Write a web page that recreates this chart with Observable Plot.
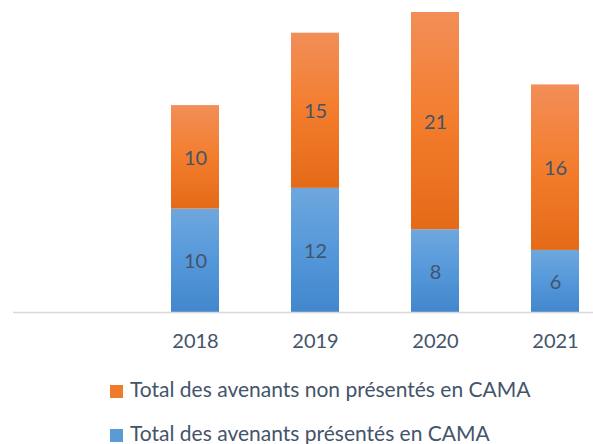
<!DOCTYPE html>
<html>
<head>
<meta charset="utf-8">
<script src="https://cdn.jsdelivr.net/npm/d3@7"></script>
<script src="https://cdn.jsdelivr.net/npm/@observablehq/plot@0.6"></script>
<style>
  html, body { margin: 0; padding: 0; background: #fff; }
  #chart { position: relative; width: 593px; height: 444px; overflow: hidden; font-family: Lato, "Open Sans", sans-serif; }
  .legend { position: absolute; left: 110px; color: #44546A; font-size: 21px; font-family: Lato, sans-serif; white-space: nowrap; }
  .legend .sw { display: inline-block; width: 13px; height: 13px; margin-right: 7px; vertical-align: -1px; }
</style>
</head>
<body>
<div id="chart"></div>
<script>
const years = ["", "2018", "2019", "2020", "2021"];
const presented = [null, 10, 12, 8, 6];
const nonPresented = [null, 10, 15, 21, 16];
const seriesNames = ["Total des avenants présentés en CAMA", "Total des avenants non présentés en CAMA"];

const data = [];
years.forEach((yr, i) => {
  if (presented[i] != null) data.push({year: yr, series: seriesNames[0], value: presented[i]});
  if (nonPresented[i] != null) data.push({year: yr, series: seriesNames[1], value: nonPresented[i]});
});

const textColor = "#44546A";

const svg = Plot.plot({
  width: 593,
  height: 370,
  marginTop: 12,
  marginBottom: 58,
  marginLeft: 13,
  marginRight: 0,
  style: {fontFamily: "Lato, 'Open Sans', sans-serif", background: "transparent"},
  x: {domain: years, range: [15, 615], paddingInner: 0.6, paddingOuter: 0.3, axis: null, label: null},
  y: {domain: [0, 29], axis: null, label: null},
  color: {domain: seriesNames, range: ["url(#gBlue)", "url(#gOrange)"]},
  marks: [
    Plot.barY(data, Plot.stackY({x: "year", y: "value", fill: "series", order: seriesNames})),
    Plot.text(data, Plot.stackY({x: "year", y: "value", z: "series", order: seriesNames, text: d => String(d.value), fill: textColor, fontSize: 20, dy: 1})),
    Plot.ruleY([0], {stroke: "#D9D9D9", strokeWidth: 1.5}),
    Plot.axisX({domain: years, tickSize: 0, tickPadding: 21, fontSize: 20, fill: textColor, tickFormat: d => d, label: null})
  ]
});

const defs = `
<linearGradient id="gOrange" x1="0" y1="0" x2="0" y2="1">
  <stop offset="0" stop-color="#F28E58"/>
  <stop offset="0.5" stop-color="#F37D2D"/>
  <stop offset="1" stop-color="#E46A17"/>
</linearGradient>
<linearGradient id="gBlue" x1="0" y1="0" x2="0" y2="1">
  <stop offset="0" stop-color="#6EA7DD"/>
  <stop offset="0.5" stop-color="#5598DA"/>
  <stop offset="1" stop-color="#4287CC"/>
</linearGradient>`;
const d = document.createElementNS("http://www.w3.org/2000/svg", "defs");
d.innerHTML = defs;
svg.insertBefore(d, svg.firstChild);

const chart = document.getElementById("chart");
chart.appendChild(svg);

const legendItems = [
  {label: seriesNames[1], color: "#EE7A2A", top: 376},
  {label: seriesNames[0], color: "#5B9BD5", top: 420}
];
legendItems.forEach(it => {
  const div = document.createElement("div");
  div.className = "legend";
  div.style.top = it.top + "px";
  div.innerHTML = `<span class="sw" style="background:${it.color}"></span>${it.label}`;
  chart.appendChild(div);
});
</script>
</body>
</html>
